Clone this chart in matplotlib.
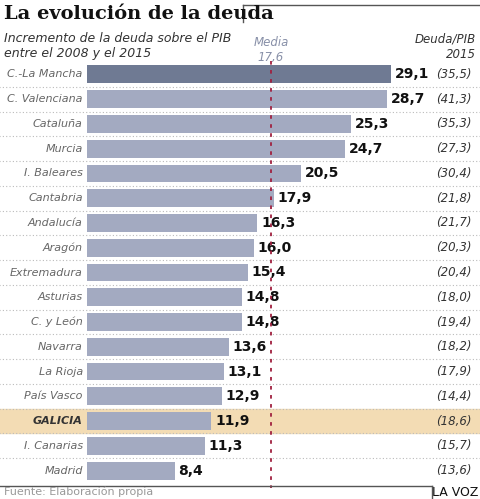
import matplotlib.pyplot as plt
from matplotlib.patches import Rectangle
from matplotlib.lines import Line2D

regions = ['C.-La Mancha', 'C. Valenciana', 'Cataluña', 'Murcia', 'I. Baleares',
           'Cantabria', 'Andalucía', 'Aragón', 'Extremadura', 'Asturias',
           'C. y León', 'Navarra', 'La Rioja', 'País Vasco', 'GALICIA',
           'I. Canarias', 'Madrid']
increase = [29.1, 28.7, 25.3, 24.7, 20.5, 17.9, 16.3, 16.0, 15.4, 14.8,
            14.8, 13.6, 13.1, 12.9, 11.9, 11.3, 8.4]
debt2015 = [35.5, 41.3, 35.3, 27.3, 30.4, 21.8, 21.7, 20.3, 20.4, 18.0,
            19.4, 18.2, 17.9, 14.4, 18.6, 15.7, 13.6]
media = 17.6

def fmt(v):
    return f'{v:.1f}'.replace('.', ',')

fig = plt.figure(figsize=(4.8, 4.99), dpi=100)
W, H = 480, 499
ax = fig.add_axes([87 / W, 16 / H, (480 - 87) / W, 421 / H])
ax.set_xlim(0, 37.6)
ax.set_ylim(len(regions) - 0.5, -0.5)
ax.axis('off')

for i, (r, v, d) in enumerate(zip(regions, increase, debt2015)):
    gal = r == 'GALICIA'
    if gal:
        ax.add_patch(Rectangle((-9, i - 0.5), 48, 1, color='#f3dcb4', zorder=0, clip_on=False))
    color = '#6f7a93' if i == 0 else '#a3aac1'
    ax.barh(i, v, height=0.72, color=color, zorder=2)
    ax.text(v + 0.35, i, fmt(v), va='center', ha='left', fontsize=10,
            fontweight='bold', color='#111111')
    ax.text(36.8, i, '(' + fmt(d) + ')', va='center', ha='right', fontsize=8.5,
            style='italic', color='#333333')
    ax.text(-0.4, i, r, va='center', ha='right', fontsize=8, style='italic',
            fontweight='bold' if gal else 'normal',
            color='#333333' if gal else '#666666')
    if i < len(regions) - 1:
        ax.plot([-9, 38], [i + 0.5, i + 0.5], ls=(0, (1, 2)), color='#bbbbbb',
                lw=0.8, clip_on=False, zorder=1)

ax.plot([media, media], [-0.55, len(regions) - 0.3], ls=(0, (2, 3)), color='#a0203f',
        lw=1.3, zorder=3, clip_on=False)

fig.text(4 / W, 1 - 14 / H, 'La evolución de la deuda', fontsize=14, fontweight='bold',
         family='DejaVu Serif', va='center', color='#111111')
fig.text(4 / W, 1 - 46 / H, 'Incremento de la deuda sobre el PIB\nentre el 2008 y el 2015',
         fontsize=9, style='italic', va='center', color='#333333', linespacing=1.3)
fig.text(271 / W, 1 - 50 / H, 'Media\n17,6', fontsize=8.5, style='italic', ha='center',
         va='center', color='#8890a8')
fig.text(476 / W, 1 - 47 / H, 'Deuda/PIB\n2015', fontsize=8.5, style='italic', ha='right',
         va='center', color='#333333', multialignment='right')
fig.text(4 / W, 1 - 492 / H, 'Fuente: Elaboración propia', fontsize=8, color='#999999',
         va='center')
fig.text(478 / W, 1 - 492 / H, 'LA VOZ', fontsize=9, color='#111111', ha='right',
         va='center')
fig.add_artist(Line2D([243 / W, 480 / W], [1 - 5 / H, 1 - 5 / H], color='#555555', lw=1))
fig.add_artist(Line2D([243 / W, 243 / W], [1 - 5 / H, 1 - 22 / H], color='#555555', lw=1))
fig.add_artist(Line2D([0, 432 / W], [1 - 486 / H, 1 - 486 / H], color='#555555', lw=1))
fig.add_artist(Line2D([432 / W, 432 / W], [1 - 486 / H, 1 - 499 / H], color='#555555', lw=1))

fig.savefig('out.png', dpi=100)
